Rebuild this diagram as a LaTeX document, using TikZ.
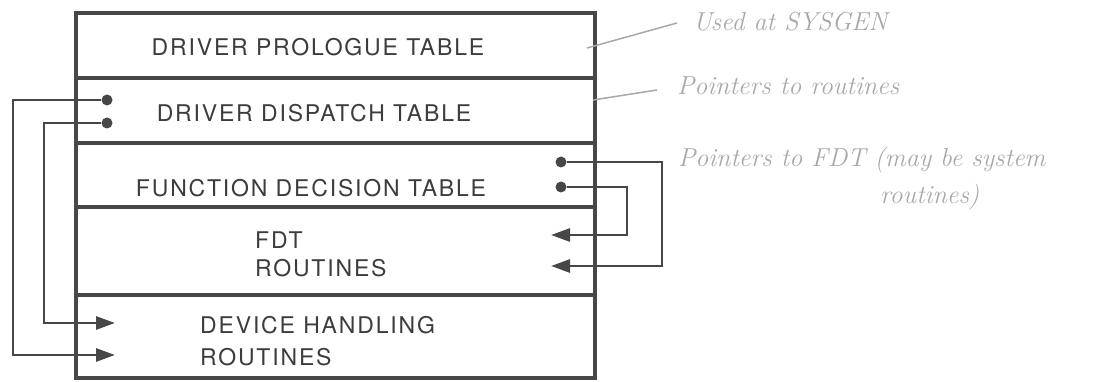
\documentclass[tikz,border=0pt]{standalone}
\usepackage{fontspec}
\setmainfont{TeX Gyre Heros}
\newfontfamily\labelfont{TeX Gyre Heros}[LetterSpace=8]
\newfontfamily\notefont{Latin Modern Roman}
\usetikzlibrary{arrows.meta}
\definecolor{ink}{HTML}{474747}
\definecolor{pencil}{HTML}{A8A8A8}
\begin{document}
\begin{tikzpicture}[x=1pt,y=-1pt,
  row/.style={draw=ink, line width=3.2pt, minimum width=519pt, inner sep=0pt},
  lbl/.style={text=ink!85!black, inner sep=0pt, font=\labelfont\fontsize{23}{28}\selectfont},
  dot/.style={circle, fill=ink, inner sep=0pt, minimum size=11pt},
  ptr/.style={draw=ink, line width=2.8pt, -{Triangle[length=19pt,width=13pt]}},
  note/.style={text=pencil, anchor=west, inner sep=0pt, font=\notefont\itshape\fontsize{26}{30}\selectfont},
  noteline/.style={draw=pencil, line width=1.5pt}]
\useasboundingbox (0,0) rectangle (1120,382);

% the five tables of the driver, stacked
\node[row, minimum height=65pt] (prologue) at (335.5,45.5) {};
\node[row, minimum height=65pt] (dispatch) at (335.5,110.5) {};
\node[row, minimum height=64pt] (fdt)      at (335.5,175) {};
\node[row, minimum height=88pt] (fdtr)     at (335.5,251) {};
\node[row, minimum height=83pt] (devr)     at (335.5,336.5) {};

\node[lbl] (tprologue) at (318,47)  {DRIVER PROLOGUE TABLE};
\node[lbl] (tdispatch) at (314,113) {DRIVER DISPATCH TABLE};
\node[lbl] (tfdt)      at (311,188) {FUNCTION DECISION TABLE};
\node[lbl, anchor=west, align=left, font=\labelfont\fontsize{23}{28}\selectfont] (tfdtr) at (255,254) {FDT\\ROUTINES};
\node[lbl, anchor=west, align=left, font=\labelfont\fontsize{23}{32}\selectfont] (tdevr) at (200,341) {DEVICE HANDLING\\ROUTINES};

% pointer origins
\node[dot] (p1) at (107,100) {};
\node[dot] (p2) at (107,123) {};
\node[dot] (q1) at (561,162) {};
\node[dot] (q2) at (561,187) {};

% pointer targets
\coordinate (t1) at (115,355);
\coordinate (t2) at (115,323);
\coordinate (u1) at (551,235);
\coordinate (u2) at (551,266);

% dispatch table -> device handling routines
\draw[ptr] (p1) -- ++(-94,0) |- (t1);
\draw[ptr] (p2) -- ++(-63,0) |- (t2);

% function decision table -> FDT routines
\draw[ptr] (q1) -- ++(101,0) |- (u2);
\draw[ptr] (q2) -- ++(66,0) |- (u1);

% pencilled notes
\coordinate (a1) at (587,48);
\coordinate (a2) at (593,100);
\node[note] (n1) at (693,22) {Used at SYSGEN};
\node[note] (n2) at (677,86) {Pointers to routines};
\node[note] (n3) at (678,160) {Pointers to FDT (may be system};
\node[note] (n4) at (880,197) {routines)};
\draw[noteline] (a1) -- (677,23);
\draw[noteline] (a2) -- (657,90);
\end{tikzpicture}
\end{document}
